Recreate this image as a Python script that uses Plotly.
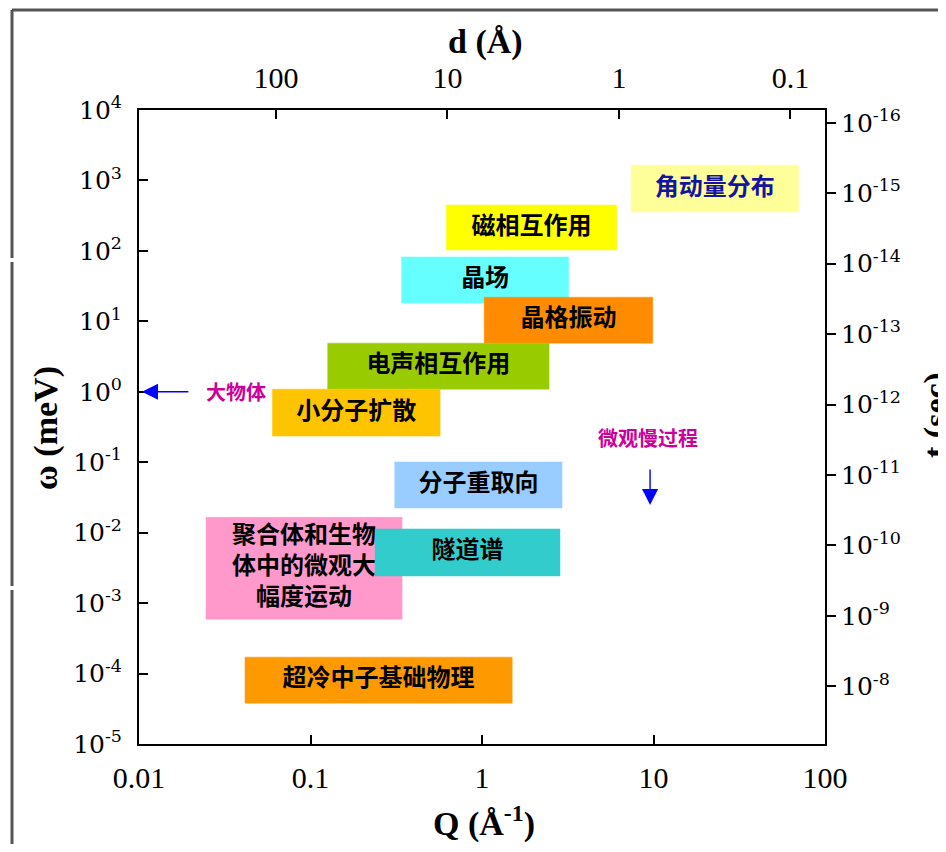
import numpy as np
import plotly.graph_objects as go

# ---------------- data ----------------
labels = ["角动量分布", "磁相互作用", "晶场", "晶格振动", "电声相互作用", "小分子扩散",
          "分子重取向", "聚合体和生物<br>体中的微观大<br>幅度运动", "隧道谱", "超冷中子基础物理"]
q_min = [7.4, 0.62, 0.34, 1.03, 0.126, 0.060, 0.31, 0.0246, 0.238, 0.0415]
q_max = [70.0, 6.1, 3.2, 9.9, 2.46, 0.57, 2.93, 0.342, 2.85, 1.50]
w_min = [356, 103, 18.2, 4.9, 1.09, 0.235, 0.0224, 5.9e-4, 0.00243, 3.8e-5]
w_max = [1650, 448, 82, 22, 4.9, 1.09, 0.1007, 0.0165, 0.0113, 1.71e-4]
box_colors = ["#FFFF99", "#FFFF00", "#66FFFF", "#FF8C00", "#99CC00", "#FFC400",
              "#99CCFF", "#FF99CC", "#33CCCC", "#FF9900"]
text_colors = ["#1414A0"] + ["#000000"] * 9

# axis ticks
q_ticks = [0.01, 0.1, 1, 10, 100]
q_ticktext = ["0.01", "0.1", "1", "10", "100"]
w_exps = [4, 3, 2, 1, 0, -1, -2, -3, -4, -5]
d_ticks = [100, 10, 1, 0.1]
d_ticktext = ["100", "10", "1", "0.1"]
t_exps = [-16, -15, -14, -13, -12, -11, -10, -9, -8]
HBAR_MEV_S = 6.582e-13  # meV*s, t = hbar / omega

# annotations with arrows
big_obj = dict(text="大物体", text_q=0.037, text_w=1.0, head_q=0.0104, tail_q=0.0198, w=1.0)
slow = dict(text="微观慢过程", text_q=9.3, text_w=0.228, q=9.55, tail_w=0.083, head_w=0.0247)

# ---------------- figure ----------------
fig = go.Figure()

for lab, x0, x1, y0, y1, bc, tc in zip(labels, q_min, q_max, w_min, w_max, box_colors, text_colors):
    fig.add_trace(go.Scatter(
        x=[x0, x1, x1, x0, x0], y=[y0, y0, y1, y1, y0],
        mode="lines", fill="toself", fillcolor=bc,
        line=dict(color=bc, width=0.5), hoverinfo="skip", showlegend=False))
    fig.add_trace(go.Scatter(
        x=[np.sqrt(x0 * x1)], y=[np.sqrt(y0 * y1)], mode="text", text=[lab],
        textposition="middle center",
        textfont=dict(family="Noto Sans CJK SC", size=24, color=tc, weight="bold"),
        hoverinfo="skip", showlegend=False))

# dummy trace for secondary axes
fig.add_trace(go.Scatter(x=[1], y=[1], xaxis="x2", yaxis="y2", mode="markers",
                         marker=dict(opacity=0), hoverinfo="skip", showlegend=False))

serif = "Liberation Serif"
dserif = "DejaVu Serif"

# page has an 8px body margin: figure origin sits at (8, 8)
fig.update_layout(
    width=938, height=836,
    margin=dict(l=131, r=121, t=102, b=100),
    paper_bgcolor="white", plot_bgcolor="white",
    showlegend=False,
    xaxis=dict(type="log", range=[-2, 2], tickvals=q_ticks, ticktext=q_ticktext,
               ticks="inside", ticklen=9, tickwidth=1.5, tickcolor="black",
               showline=True, linecolor="black", linewidth=2, showgrid=False, zeroline=False,
               tickfont=dict(family=serif, size=30, color="black"), ticklabelstandoff=6),
    yaxis=dict(type="log", range=[-5, 4], tickvals=[10.0 ** e for e in w_exps],
               ticktext=["10<sup>%d</sup>" % e for e in w_exps],
               ticks="inside", ticklen=9, tickwidth=1.5, tickcolor="black",
               showline=True, linecolor="black", linewidth=2, showgrid=False, zeroline=False,
               tickfont=dict(family=dserif, size=25, color="black"), ticklabelstandoff=10),
    xaxis2=dict(type="log", range=[-2, 2], overlaying="x", side="top",
                tickvals=[2 * np.pi / d for d in d_ticks], ticktext=d_ticktext,
                ticks="inside", ticklen=9, tickwidth=1.5, tickcolor="black",
                showline=True, linecolor="black", linewidth=2, showgrid=False, zeroline=False,
                tickfont=dict(family=serif, size=30, color="black"), ticklabelstandoff=8),
    yaxis2=dict(type="log", range=[-5, 4], overlaying="y", side="right",
                tickvals=[HBAR_MEV_S / 10.0 ** e for e in t_exps],
                ticktext=["10<sup>%d</sup>" % e for e in t_exps],
                ticks="outside", ticklen=9, tickwidth=1.5, tickcolor="black",
                showline=True, linecolor="black", linewidth=2, showgrid=False, zeroline=False,
                tickfont=dict(family=dserif, size=25, color="black"), ticklabelstandoff=0),
)


def px_x(p):
    return (p - 139) / 686.0


def px_y(p):
    return (744 - p) / 634.0


ann = []
title_font = dict(family=serif, size=34, color="black")
ann.append(dict(text="<b>d (Å)</b>", xref="paper", yref="paper", x=px_x(485), y=px_y(42),
                xanchor="center", yanchor="middle", showarrow=False, font=title_font))
ann.append(dict(text="<b>Q (Å<sup>-1</sup>)</b>", xref="paper", yref="paper", x=px_x(484), y=px_y(822),
                xanchor="center", yanchor="middle", showarrow=False, font=title_font))
ann.append(dict(text="<b>ω (meV)</b>", xref="paper", yref="paper", x=px_x(46), y=px_y(428),
                xanchor="center", yanchor="middle", textangle=-90, showarrow=False, font=title_font))
ann.append(dict(text="<b>t (sec)</b>", xref="paper", yref="paper", x=px_x(936), y=px_y(415),
                xanchor="center", yanchor="middle", textangle=-90, showarrow=False, font=title_font))
# 大物体 arrow + text
ann.append(dict(x=np.log10(big_obj["head_q"]), y=np.log10(big_obj["w"]), xref="x", yref="y",
                ax=np.log10(big_obj["tail_q"]), ay=np.log10(big_obj["w"]), axref="x", ayref="y",
                text="", showarrow=True, arrowhead=2, arrowsize=2.3, arrowwidth=1.4,
                arrowcolor="#0000FF"))
ann.append(dict(x=np.log10(big_obj["text_q"]), y=np.log10(big_obj["text_w"]), xref="x", yref="y",
                text="<b>%s</b>" % big_obj["text"], showarrow=False,
                font=dict(family="Noto Sans CJK SC", size=20, color="#CC0099")))
# 微观慢过程 arrow + text
ann.append(dict(x=np.log10(slow["q"]), y=np.log10(slow["head_w"]), xref="x", yref="y",
                ax=np.log10(slow["q"]), ay=np.log10(slow["tail_w"]), axref="x", ayref="y",
                text="", showarrow=True, arrowhead=2, arrowsize=2.3, arrowwidth=1.4,
                arrowcolor="#0000FF"))
ann.append(dict(x=np.log10(slow["text_q"]), y=np.log10(slow["text_w"]), xref="x", yref="y",
                text="<b>%s</b>" % slow["text"], showarrow=False,
                font=dict(family="Noto Sans CJK SC", size=20, color="#CC0099")))
fig.update_layout(annotations=ann)

# outer frame (gray, top + left with small gaps)
frame = []
frame_col = "#555555"
frame.append(dict(type="line", xref="paper", yref="paper", x0=px_x(12), x1=px_x(946),
                  y0=px_y(10), y1=px_y(10), line=dict(color=frame_col, width=3)))
for a, b in [(10, 258), (262, 586), (590, 852)]:
    frame.append(dict(type="line", xref="paper", yref="paper", x0=px_x(12), x1=px_x(12),
                      y0=px_y(a), y1=px_y(b), line=dict(color=frame_col, width=3)))
fig.update_layout(shapes=frame)

fig.write_html("out.html")
